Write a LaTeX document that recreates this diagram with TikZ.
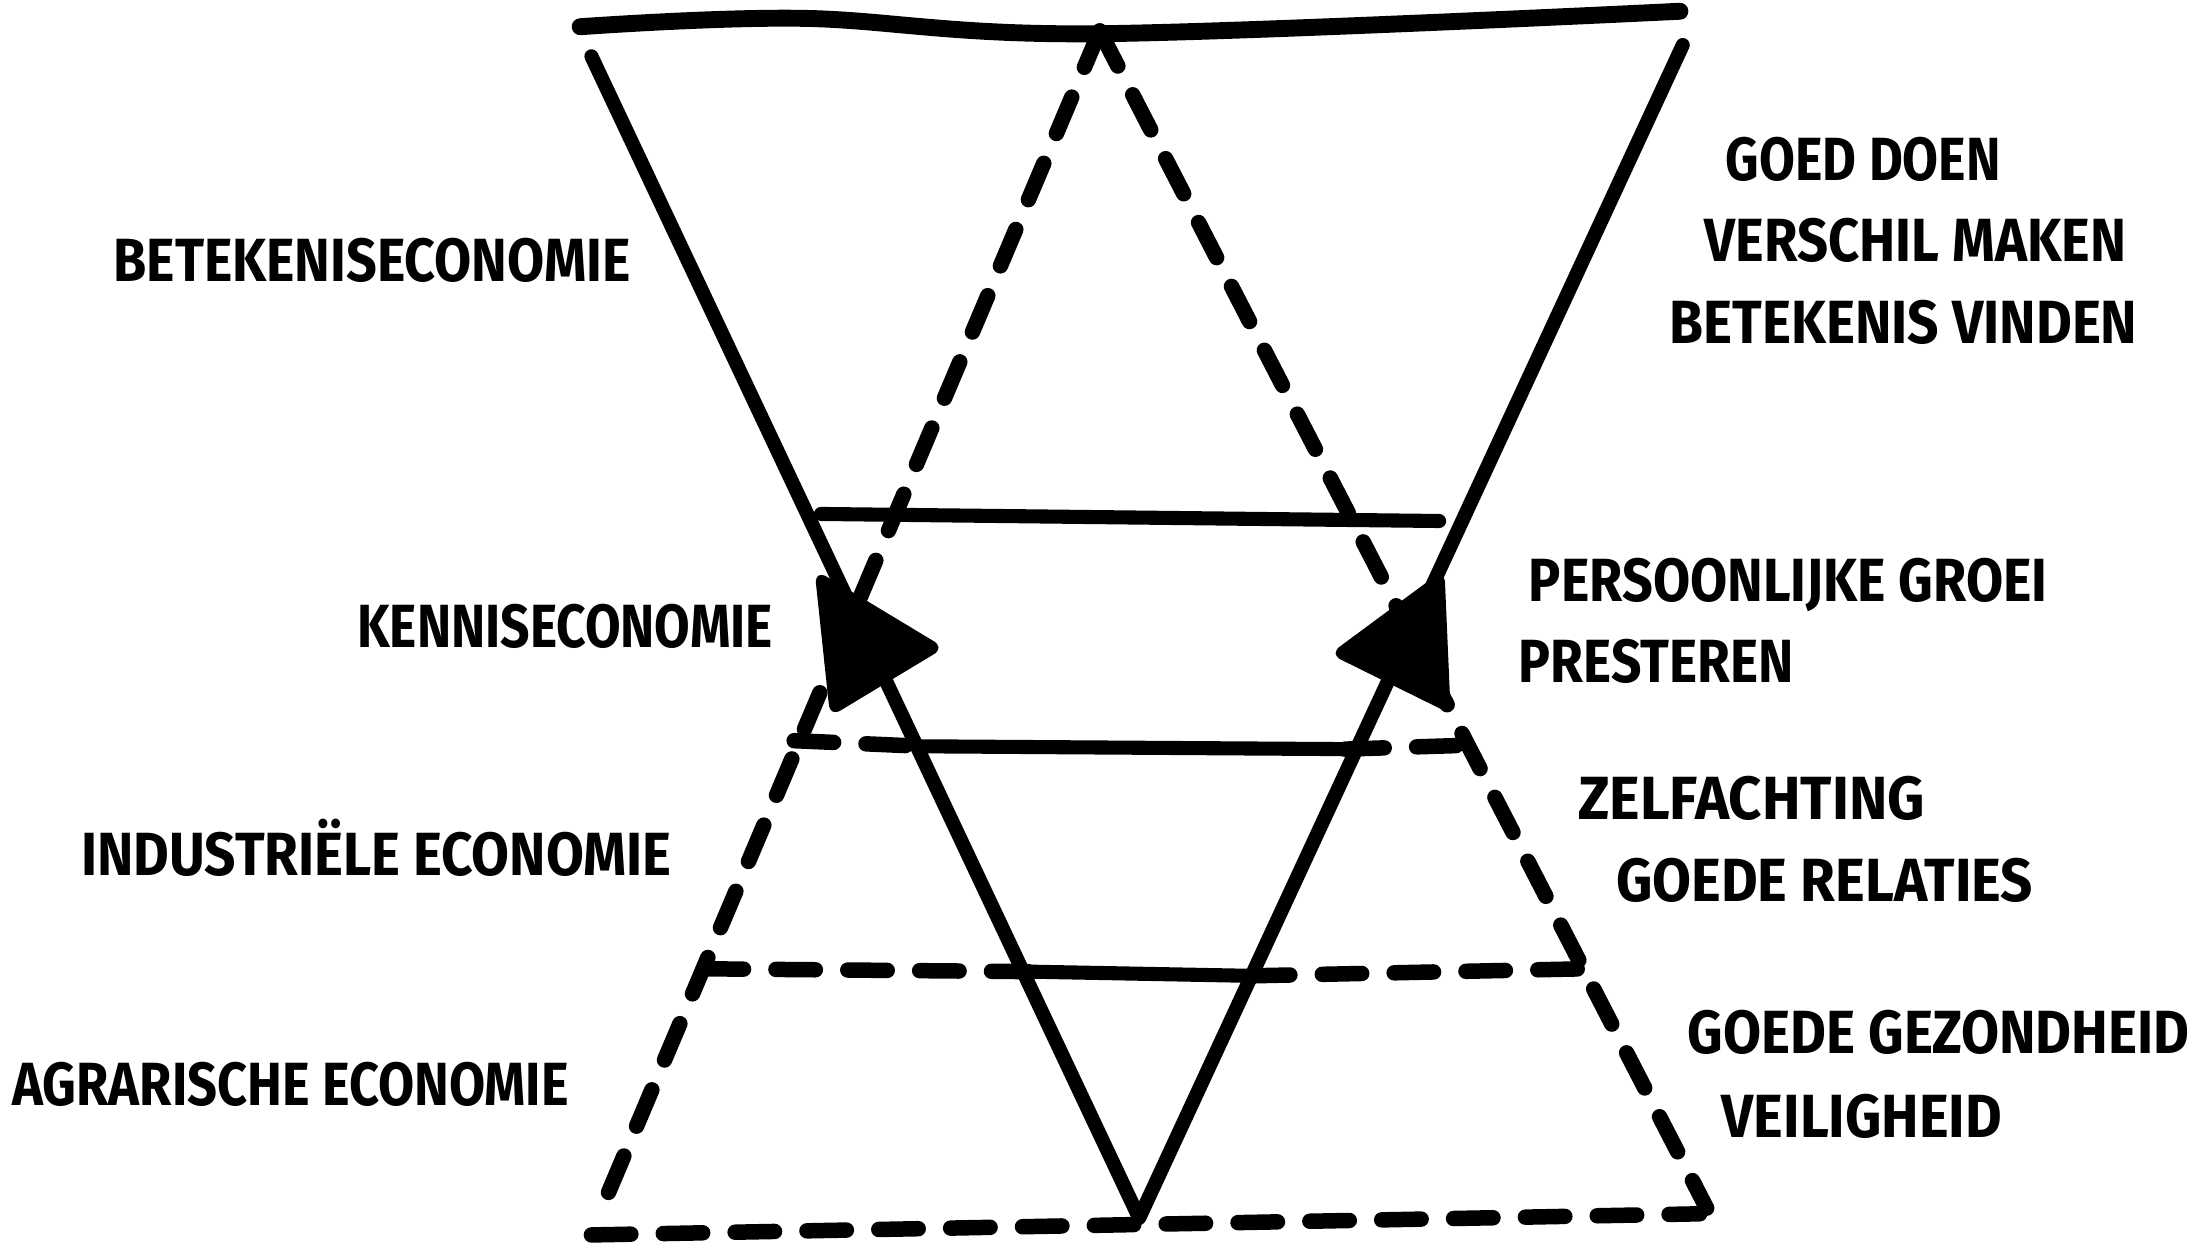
\documentclass[tikz,border=0pt]{standalone}
\usepackage{fontspec}
\setmainfont{Fira Sans}
\newcommand\hw[2]{\resizebox{#1}{0.3cm}{\smash{#2}\vphantom{E}}}
\begin{document}
\begin{tikzpicture}[x=0.01cm,y=-0.01cm,
  solidline/.style={line width=0.10cm,line cap=round,line join=round},
  topline/.style={line width=0.12cm,line cap=round,line join=round},
  dashline/.style={line width=0.11cm,line cap=round,dash pattern=on 0.28cm off 0.23cm},
  headfill/.style={fill=black,draw=black,line width=0.06cm,line join=round,rounded corners=0.03cm},
  lbl/.style={anchor=west,inner sep=0pt,font=\bfseries}]
\useasboundingbox (0,0) rectangle (1568,886);
% key points
\coordinate (VL) at (420,40);
\coordinate (VR) at (1195,32);
\coordinate (VB) at (809,865);
\coordinate (AP) at (781,22);
\coordinate (DBL) at (424,866);
\coordinate (DBR) at (1212,858);
\coordinate (BBL) at (420,877);
\coordinate (BBR) at (1207,862);
% top line
\draw[topline] plot[smooth,tension=0.6] coordinates {(412,19) (568,13) (777,24) (1193,8)};
% solid V
\draw[solidline] (VL) -- (VB) -- (VR);
% dashed triangle
\draw[dashline] (AP) -- (DBL);
\draw[dashline] (AP) -- (DBR);
\draw[dashline] (BBL) -- (BBR);
% level lines
\coordinate (A1) at (583,365); \coordinate (A2) at (1022,370);
\draw[solidline] (A1) -- (A2);
\coordinate (B0) at (564,526); \coordinate (B1) at (655,530);
\coordinate (B2) at (955,532); \coordinate (B3) at (1050,529);
\draw[dashline] (B0) -- (B1);
\draw[solidline] (B1) -- (B2);
\draw[dashline] (B2) -- (B3);
\coordinate (C0) at (500,688); \coordinate (C1) at (730,690);
\coordinate (C2) at (888,693); \coordinate (C3) at (1125,688);
\draw[dashline] (C0) -- (C1);
\draw[solidline] (C1) -- (C2);
\draw[dashline] (C2) -- (C3);
% arrowheads
\draw[headfill] (582,410) -- (665,460) -- (592,504) -- cycle;
\draw[headfill] (1023,410) -- (950,464) -- (1027,502) -- cycle;
% labels left
\node[lbl] (t1) at (80,185) {\hw{3.67cm}{BETEKENISECONOMIE}};
\node[lbl] (t2) at (253,445) {\hw{2.95cm}{KENNISECONOMIE}};
\node[lbl] (t3) at (57,607) {\hw{4.19cm}{INDUSTRIËLE ECONOMIE}};
\node[lbl] (t4) at (8,770) {\hw{3.95cm}{AGRARISCHE ECONOMIE}};
% labels right
\node[lbl] (r1) at (1225,113) {\hw{1.95cm}{GOED DOEN}};
\node[lbl] (r2) at (1210,171) {\hw{2.99cm}{VERSCHIL MAKEN}};
\node[lbl] (r3) at (1185,229) {\hw{3.32cm}{BETEKENIS VINDEN}};
\node[lbl] (r4) at (1085,412) {\hw{3.68cm}{PERSOONLIJKE GROEI}};
\node[lbl] (r5) at (1078,470) {\hw{1.95cm}{PRESTEREN}};
\node[lbl] (r6) at (1120,567) {\hw{2.46cm}{ZELFACHTING}};
\node[lbl] (r7) at (1147,625) {\hw{2.96cm}{GOEDE RELATIES}};
\node[lbl] (r8) at (1198,733) {\hw{3.56cm}{GOEDE GEZONDHEID}};
\node[lbl] (r9) at (1222,793) {\hw{1.99cm}{VEILIGHEID}};
\end{tikzpicture}
\end{document}
